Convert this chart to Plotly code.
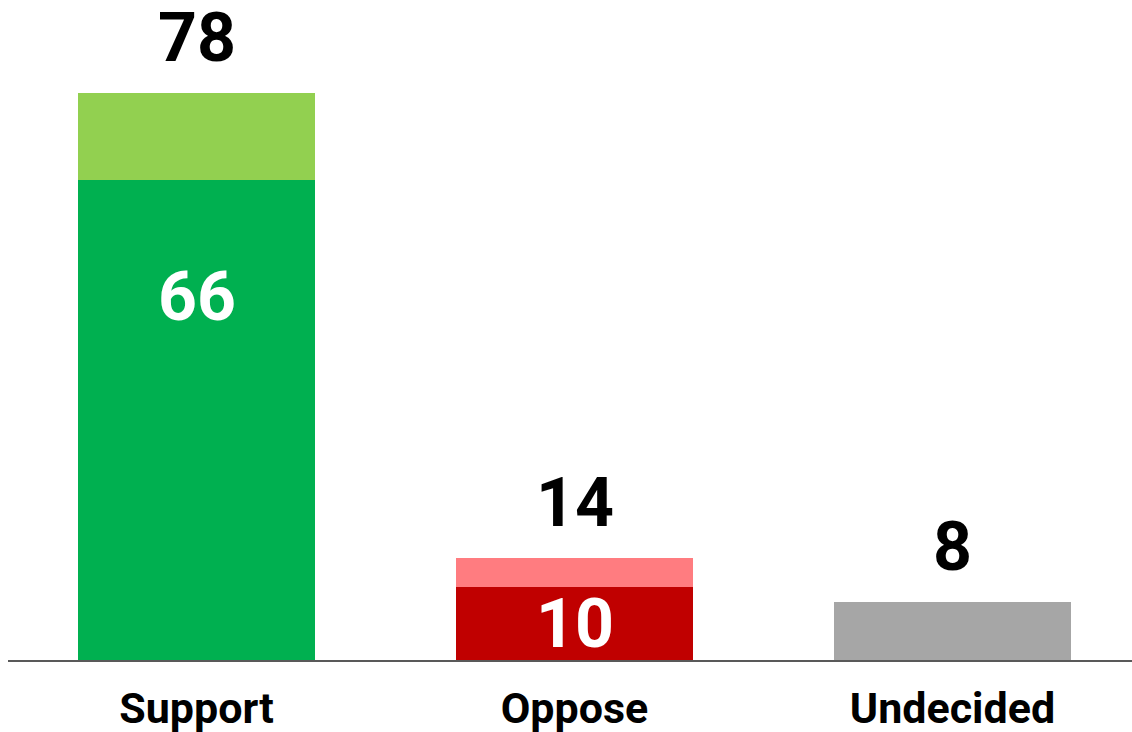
import plotly.graph_objects as go

categories = ["Support", "Oppose", "Undecided"]
strong = [66, 10, 8]
lean = [12, 4, 0]
totals = [78, 14, 8]
inner_labels = ["66", "10", ""]

strong_colors = ["#00B050", "#C00000", "#A6A6A6"]
lean_colors = ["#92D050", "#FF7C80", "#A6A6A6"]

FONT = "Roboto"

fig = go.Figure()
fig.add_trace(go.Bar(x=categories, y=strong, marker=dict(color=strong_colors, line=dict(width=0)),
                     width=0.627, hoverinfo="skip"))
fig.add_trace(go.Bar(x=categories, y=lean, marker=dict(color=lean_colors, line=dict(width=0)),
                     width=0.627, hoverinfo="skip"))

for c, t in zip(categories, totals):
    fig.add_annotation(x=c, y=t, text=f"<b>{t}</b>", showarrow=False, yanchor="middle", yshift=55,
                       font=dict(family=FONT, size=68, color="black"))
for c, v, lab in zip(categories, strong, inner_labels):
    if lab:
        fig.add_annotation(x=c, y=max(v / 2, v - 16), text=f"<b>{lab}</b>", showarrow=False,
                           yanchor="middle", font=dict(family=FONT, size=68, color="white"))

fig.update_layout(
    barmode="stack",
    width=1132, height=732,
    margin=dict(l=8, r=0, t=0, b=72),
    paper_bgcolor="white", plot_bgcolor="white",
    showlegend=False,
    bargap=0,
    xaxis=dict(range=[-0.4987, 2.4749], showgrid=False, zeroline=False, showline=True,
               linecolor="#595959", linewidth=1.5, ticks="", ticklabelstandoff=10,
               tickfont=dict(family=FONT, size=43, color="black")),
    yaxis=dict(range=[0, 90.8], visible=False, showgrid=False, zeroline=False),
)
fig.update_xaxes(tickvals=categories, ticktext=[f"<b>{c}</b>" for c in categories])

fig.write_html("out.html")
